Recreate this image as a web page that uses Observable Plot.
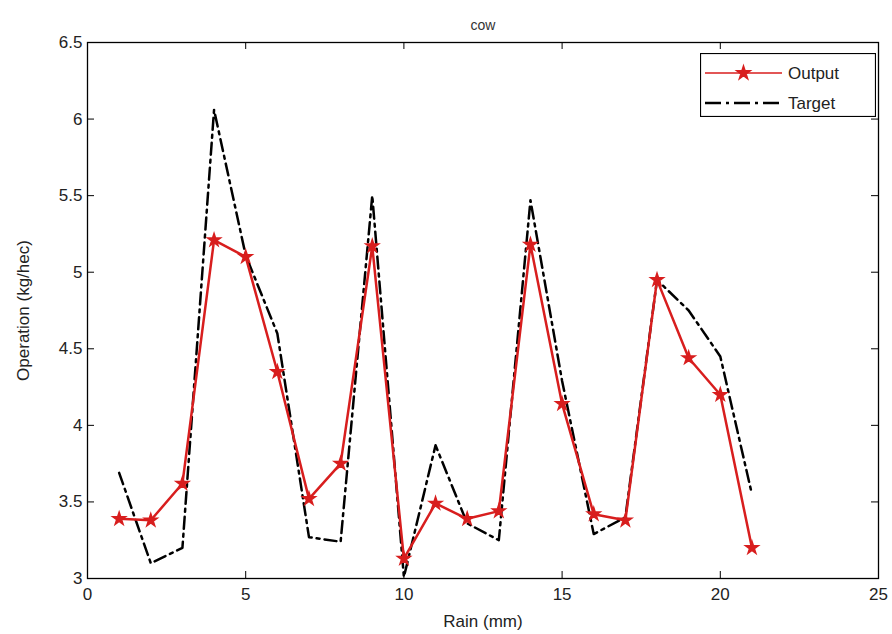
<!DOCTYPE html>
<html>
<head>
<meta charset="utf-8">
<script src="https://cdn.jsdelivr.net/npm/d3@7"></script>
<script src="https://cdn.jsdelivr.net/npm/@observablehq/plot@0.6"></script>
<style>
  html, body { margin: 0; padding: 0; background: #fff; }
  #wrap { position: relative; width: 892px; height: 634px; font-family: "Liberation Sans", Arial, sans-serif; }
  #legend { position: absolute; left: 700px; top: 53px; width: 176px; height: 64px; }
</style>
</head>
<body>
<div id="wrap"></div>
<script>
const rain = [1, 2, 3, 4, 5, 6, 7, 8, 9, 10, 11, 12, 13, 14, 15, 16, 17, 18, 19, 20, 21];
const output = [3.39, 3.38, 3.62, 5.21, 5.10, 4.35, 3.52, 3.75, 5.17, 3.13, 3.49, 3.39, 3.44, 5.18, 4.14, 3.42, 3.38, 4.95, 4.44, 4.20, 3.20];
const target = [3.69, 3.10, 3.20, 6.06, 5.11, 4.60, 3.27, 3.24, 5.50, 3.01, 3.87, 3.36, 3.25, 5.47, 4.29, 3.29, 3.40, 4.95, 4.75, 4.45, 3.55];
const xTicks = [0, 5, 10, 15, 20, 25];
const yTicks = [3, 3.5, 4, 4.5, 5, 5.5, 6, 6.5];
const seriesNames = ["Output", "Target"];
const title = "cow";

const outData = rain.map((r, i) => ({rain: r, value: output[i]}));
const tgtData = rain.map((r, i) => ({rain: r, value: target[i]}));

const W = 892, H = 634, mL = 87, mR = 14, mT = 42, mB = 56;
const frameH = H - mT - mB, frameW = W - mL - mR, tk = 7;
const red = "#d81e1e";

const chart = Plot.plot({
  width: W, height: H,
  marginLeft: mL, marginRight: mR, marginTop: mT, marginBottom: mB,
  style: {fontFamily: "'Liberation Sans', Arial, sans-serif", fontSize: "16px", color: "#222", background: "#fff", overflow: "visible"},
  x: {domain: [0, 25]},
  y: {domain: [3, 6.5]},
  marks: [
    Plot.axisX({ticks: xTicks, tickSize: 0, tickPadding: 9, tickFormat: d => String(d), label: "Rain (mm)", labelArrow: "none", labelAnchor: "center", labelOffset: 48, fontSize: 17}),
    Plot.axisY({ticks: yTicks, tickSize: 0, tickPadding: 5, tickFormat: d => String(d), label: "Operation (kg/hec)", labelArrow: "none", labelAnchor: "center", labelOffset: 71, fontSize: 17}),
    Plot.tickX(xTicks, {x: d => d, insetTop: frameH - tk, stroke: "#000"}),
    Plot.tickX(xTicks, {x: d => d, insetBottom: frameH - tk, stroke: "#000"}),
    Plot.tickY(yTicks, {y: d => d, insetRight: frameW - tk, stroke: "#000"}),
    Plot.tickY(yTicks, {y: d => d, insetLeft: frameW - tk, stroke: "#000"}),
    Plot.line(tgtData, {x: "rain", y: "value", stroke: "#000", strokeWidth: 2.5, strokeDasharray: "12,5,3,5"}),
    Plot.line(outData, {x: "rain", y: "value", stroke: red, strokeWidth: 2.5}),
    Plot.dot(outData, {x: "rain", y: "value", symbol: "star", fill: red, stroke: red, strokeWidth: 1.5, r: 4}),
    Plot.frame({stroke: "#000", strokeWidth: 1.3}),
    Plot.text([title], {frameAnchor: "top", dy: -22, fontSize: 14, fill: "#333"})
  ]
});
const wrap = document.getElementById("wrap");
wrap.appendChild(chart);

// legend
const lg = d3.select(wrap).append("svg").attr("id", "legend").attr("width", 176).attr("height", 64)
  .style("font-family", "'Liberation Sans', Arial, sans-serif");
lg.append("rect").attr("x", 0.5).attr("y", 0.5).attr("width", 175).attr("height", 63)
  .attr("fill", "#fff").attr("stroke", "#000").attr("stroke-width", 1.2);
const rows = [20, 50];
lg.append("line").attr("x1", 5).attr("x2", 82).attr("y1", rows[0]).attr("y2", rows[0])
  .attr("stroke", red).attr("stroke-width", 1.6);
lg.append("path").attr("d", d3.symbol(d3.symbolStar, 55)()).attr("transform", `translate(43.5,${rows[0]})`)
  .attr("fill", red).attr("stroke", red).attr("stroke-width", 1.5);
lg.append("line").attr("x1", 5).attr("x2", 82).attr("y1", rows[1]).attr("y2", rows[1])
  .attr("stroke", "#000").attr("stroke-width", 2.4).attr("stroke-dasharray", "16,5,3,5");
seriesNames.forEach((n, i) => {
  lg.append("text").attr("x", 88).attr("y", rows[i]).attr("dy", "0.35em")
    .attr("font-size", 17).attr("fill", "#222").text(n);
});
</script>
</body>
</html>
